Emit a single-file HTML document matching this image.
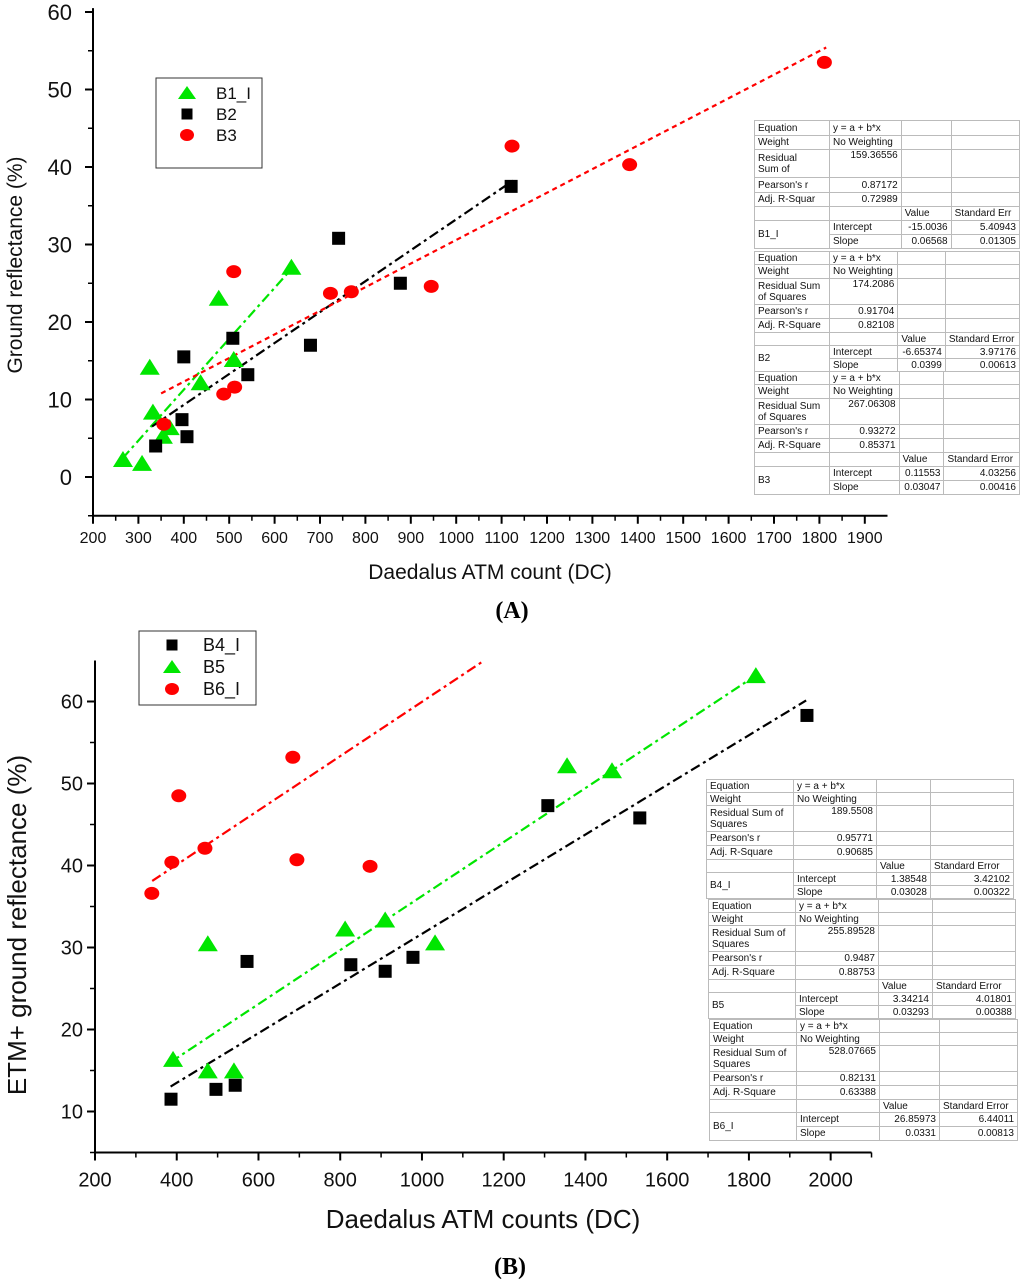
<!DOCTYPE html>
<html><head><meta charset="utf-8">
<style>
body{margin:0;background:#fff;width:1024px;height:1279px;overflow:hidden;position:relative;font-family:"Liberation Sans",Arial,sans-serif}
svg{position:absolute;left:0;top:0}
table{position:absolute;border-collapse:collapse;font-family:"Liberation Sans",Arial,sans-serif;font-size:10px;color:#111;background:#fff}
td{border:1px solid #bbb;padding:0 3px;vertical-align:middle;line-height:11px;white-space:nowrap;overflow:hidden}
td.r{text-align:right}
.tb{border:1.5px solid #666}
</style></head>
<body>
<svg id="chart" width="1024" height="1279"></svg>

<table class="tb" style="left:754px;top:120px;width:266px;height:129px">
<tr style="height:15px"><td style="width:68px">Equation</td><td>y = a + b*x</td><td></td><td></td></tr>
<tr style="height:14px"><td>Weight</td><td>No Weighting</td><td></td><td></td></tr>
<tr style="height:28px"><td>Residual<br>Sum of</td><td class="r" style="vertical-align:top">159.36556</td><td></td><td></td></tr>
<tr style="height:15px"><td>Pearson's r</td><td class="r">0.87172</td><td></td><td></td></tr>
<tr style="height:14px"><td>Adj. R-Squar</td><td class="r">0.72989</td><td></td><td></td></tr>
<tr style="height:14px"><td></td><td></td><td>Value</td><td>Standard Err</td></tr>
<tr style="height:14px"><td rowspan="2">B1_I</td><td>Intercept</td><td class="r">-15.0036</td><td class="r">5.40943</td></tr>
<tr style="height:14px"><td>Slope</td><td class="r">0.06568</td><td class="r">0.01305</td></tr>
</table>
<table class="tb" style="left:754px;top:251px;width:266px;height:120px">
<tr style="height:13px"><td style="width:68px">Equation</td><td>y = a + b*x</td><td></td><td></td></tr>
<tr style="height:14px"><td>Weight</td><td>No Weighting</td><td></td><td></td></tr>
<tr style="height:26px"><td>Residual Sum<br>of Squares</td><td class="r" style="vertical-align:top">174.2086</td><td></td><td></td></tr>
<tr style="height:14px"><td>Pearson's r</td><td class="r">0.91704</td><td></td><td></td></tr>
<tr style="height:14px"><td>Adj. R-Square</td><td class="r">0.82108</td><td></td><td></td></tr>
<tr style="height:13px"><td></td><td></td><td>Value</td><td>Standard Error</td></tr>
<tr style="height:13px"><td rowspan="2">B2</td><td>Intercept</td><td class="r">-6.65374</td><td class="r">3.97176</td></tr>
<tr style="height:13px"><td>Slope</td><td class="r">0.0399</td><td class="r">0.00613</td></tr>
</table>
<table class="tb" style="left:754px;top:371px;width:266px;height:124px">
<tr style="height:13px"><td style="width:68px">Equation</td><td>y = a + b*x</td><td></td><td></td></tr>
<tr style="height:14px"><td>Weight</td><td>No Weighting</td><td></td><td></td></tr>
<tr style="height:26px"><td>Residual Sum<br>of Squares</td><td class="r" style="vertical-align:top">267.06308</td><td></td><td></td></tr>
<tr style="height:14px"><td>Pearson's r</td><td class="r">0.93272</td><td></td><td></td></tr>
<tr style="height:14px"><td>Adj. R-Square</td><td class="r">0.85371</td><td></td><td></td></tr>
<tr style="height:14px"><td></td><td></td><td>Value</td><td>Standard Error</td></tr>
<tr style="height:14px"><td rowspan="2">B3</td><td>Intercept</td><td class="r">0.11553</td><td class="r">4.03256</td></tr>
<tr style="height:14px"><td>Slope</td><td class="r">0.03047</td><td class="r">0.00416</td></tr>
</table>

<table class="tb" style="left:706px;top:779px;width:308px;height:118px">
<tr style="height:13px"><td style="width:80px">Equation</td><td style="width:76px">y = a + b*x</td><td style="width:47px"></td><td></td></tr>
<tr style="height:13px"><td>Weight</td><td>No Weighting</td><td></td><td></td></tr>
<tr style="height:26px"><td>Residual Sum of<br>Squares</td><td class="r" style="vertical-align:top">189.5508</td><td></td><td></td></tr>
<tr style="height:14px"><td>Pearson's r</td><td class="r">0.95771</td><td></td><td></td></tr>
<tr style="height:14px"><td>Adj. R-Square</td><td class="r">0.90685</td><td></td><td></td></tr>
<tr style="height:13px"><td></td><td></td><td>Value</td><td>Standard Error</td></tr>
<tr style="height:13px"><td rowspan="2">B4_I</td><td>Intercept</td><td class="r">1.38548</td><td class="r">3.42102</td></tr>
<tr style="height:13px"><td>Slope</td><td class="r">0.03028</td><td class="r">0.00322</td></tr>
</table>
<table class="tb" style="left:708px;top:899px;width:308px;height:118px">
<tr style="height:13px"><td style="width:80px">Equation</td><td style="width:76px">y = a + b*x</td><td style="width:47px"></td><td></td></tr>
<tr style="height:13px"><td>Weight</td><td>No Weighting</td><td></td><td></td></tr>
<tr style="height:26px"><td>Residual Sum of<br>Squares</td><td class="r" style="vertical-align:top">255.89528</td><td></td><td></td></tr>
<tr style="height:14px"><td>Pearson's r</td><td class="r">0.9487</td><td></td><td></td></tr>
<tr style="height:14px"><td>Adj. R-Square</td><td class="r">0.88753</td><td></td><td></td></tr>
<tr style="height:13px"><td></td><td></td><td>Value</td><td>Standard Error</td></tr>
<tr style="height:13px"><td rowspan="2">B5</td><td>Intercept</td><td class="r">3.34214</td><td class="r">4.01801</td></tr>
<tr style="height:13px"><td>Slope</td><td class="r">0.03293</td><td class="r">0.00388</td></tr>
</table>
<table class="tb" style="left:709px;top:1019px;width:309px;height:121px">
<tr style="height:13px"><td style="width:80px">Equation</td><td style="width:76px">y = a + b*x</td><td style="width:53px"></td><td></td></tr>
<tr style="height:13px"><td>Weight</td><td>No Weighting</td><td></td><td></td></tr>
<tr style="height:26px"><td>Residual Sum of<br>Squares</td><td class="r" style="vertical-align:top">528.07665</td><td></td><td></td></tr>
<tr style="height:14px"><td>Pearson's r</td><td class="r">0.82131</td><td></td><td></td></tr>
<tr style="height:14px"><td>Adj. R-Square</td><td class="r">0.63388</td><td></td><td></td></tr>
<tr style="height:13px"><td></td><td></td><td>Value</td><td>Standard Error</td></tr>
<tr style="height:14px"><td rowspan="2">B6_I</td><td>Intercept</td><td class="r">26.85973</td><td class="r">6.44011</td></tr>
<tr style="height:14px"><td>Slope</td><td class="r">0.0331</td><td class="r">0.00813</td></tr>
</table>

<script>
// Panel A data
const aB1x=[266,308,325,332,354,369,437,477,510,637];
const aB1y=[2.2,1.7,14.1,8.3,5.2,6.3,12.1,23,15.1,27];
const aB2x=[338,396,400,407,508,541,679,741,877,1121];
const aB2y=[4.0,7.4,15.5,5.2,17.9,13.2,17,30.8,25,37.5];
const aB3x=[356,488,512,510,723,769,945,1123,1382,1811];
const aB3y=[6.8,10.7,11.6,26.5,23.7,23.9,24.6,42.7,40.3,53.5];
const aFitB1=[-15.0036,0.06568,265,640];
const aFitB2=[-6.65374,0.0399,330,1125];
const aFitB3=[0.11553,0.03047,350,1815];
const aXTicks=[200,300,400,500,600,700,800,900,1000,1100,1200,1300,1400,1500,1600,1700,1800,1900];
const aYTicks=[0,10,20,30,40,50,60];
// Panel B data
const bB4x=[386,496,543,572,826,910,978,1308,1533,1942];
const bB4y=[11.5,12.7,13.2,28.3,27.9,27.1,28.8,47.3,45.8,58.3];
const bB5x=[391,476,476,540,812,910,1032,1355,1465,1817];
const bB5y=[16.3,30.4,14.9,14.9,32.2,33.3,30.5,52.1,51.5,63.1];
const bB6x=[339,388,405,469,684,694,873];
const bB6y=[36.6,40.4,48.5,42.1,53.2,40.7,39.9];
const bFitB4=[1.38548,0.03028,385,1940];
const bFitB5=[3.34214,0.03293,385,1815];
const bFitB6=[26.85973,0.0331,340,1150];
const bXTicks=[200,400,600,800,1000,1200,1400,1600,1800,2000];
const bYTicks=[10,20,30,40,50,60];

const NS='http://www.w3.org/2000/svg';
const svg=document.getElementById('chart');
function el(tag,attrs,parent){const e=document.createElementNS(NS,tag);for(const k in attrs)e.setAttribute(k,attrs[k]);(parent||svg).appendChild(e);return e;}
function txt(s,attrs,parent){const e=el('text',attrs,parent);e.textContent=s;return e;}

function panel(cfg){
  const g=el('g',{});
  
  
  const X=v=>cfg.x0+(v-cfg.xmin)*cfg.xs;
  const Y=v=>cfg.y0-(v-cfg.ymin)*cfg.ys;
  const L=cfg.x0, R=X(cfg.xmax), B=Y(cfg.ybot), T=Y(cfg.ytop);
  const ax=el('path',{d:`M${L},${T}V${B}H${R}`,stroke:'#000','stroke-width':2,fill:'none'},g);
  
  
  cfg.xTicks.forEach((t,i)=>{
    el('line',{x1:X(t),x2:X(t),y1:B,y2:B+8,stroke:'#000','stroke-width':2},g);
    if(i<cfg.xTicks.length-1||cfg.xMinorLast) el('line',{x1:X(t+cfg.xStep/2),x2:X(t+cfg.xStep/2),y1:B,y2:B+5,stroke:'#000','stroke-width':1.5},g);
    const l=txt(String(t),{x:X(t),y:B+cfg.xLabOff,'font-size':cfg.tickFs,'text-anchor':'middle',fill:'#111'},g);
    
    
  });
  cfg.yTicks.forEach(t=>{
    el('line',{x1:L-8,x2:L,y1:Y(t),y2:Y(t),stroke:'#000','stroke-width':2},g);
    el('line',{x1:L-5,x2:L,y1:Y(t-cfg.yStep/2),y2:Y(t-cfg.yStep/2),stroke:'#000','stroke-width':1.5},g);
    const l=txt(String(t),{x:L-cfg.yGap,y:Y(t)+cfg.yTickFs*0.36,'font-size':cfg.yTickFs,'text-anchor':'end',fill:'#111'},g);
    
    
  });
  const xl=txt(cfg.xLabel,{x:cfg.xLabelPos[0],y:cfg.xLabelPos[1],'font-size':cfg.labFs,'text-anchor':'middle',fill:'#111'},g);
  
  
  const yl=txt(cfg.yLabel,{x:0,y:0,'font-size':cfg.labFs,'text-anchor':'middle',fill:'#111',transform:`translate(${cfg.yLabelPos[0]},${cfg.yLabelPos[1]}) rotate(-90)`},g);
  
  
  cfg.fits.forEach(f=>{
    const [a,b,x1,x2]=f.p;
    let xe=x2; let ye=a+b*x2; if(ye>cfg.ytop){xe=(cfg.ytop-a)/b;ye=cfg.ytop;}
    const ln=el('line',{x1:X(x1),y1:Y(a+b*x1),x2:X(xe),y2:Y(ye),stroke:f.c,'stroke-width':2.2,'stroke-dasharray':f.dash},g);
    
    
  });
  cfg.series.forEach(s=>{
    s.xs.forEach((xv,i)=>{
      const cx=X(xv), cy=Y(s.ys[i]); let m;
      if(s.shape==='tri') m=el('polygon',{points:`${cx},${cy-9} ${cx-10},${cy+7} ${cx+10},${cy+7}`,fill:'#00e600'},g);
      else if(s.shape==='sq') m=el('rect',{x:cx-6.5,y:cy-6.5,width:13,height:13,fill:'#000'},g);
      else m=el('ellipse',{cx:cx,cy:cy,rx:7.5,ry:6.5,fill:'#f00'},g);
      
      
    });
  });
  const lg=el('g',{},g);
  
  
  const [lx,ly,lw,lh]=cfg.legBox;
  el('rect',{x:lx,y:ly,width:lw,height:lh,fill:'#fff',stroke:'#333','stroke-width':1},lg);
  cfg.series.forEach((s,i)=>{
    const cy=ly+cfg.legY0+i*cfg.legDy, cx=lx+cfg.legMx;
    let m;
    if(s.shape==='tri') m=el('polygon',{points:`${cx},${cy-7} ${cx-9},${cy+6} ${cx+9},${cy+6}`,fill:'#00e600'},lg);
    else if(s.shape==='sq') m=el('rect',{x:cx-5.5,y:cy-5.5,width:11,height:11,fill:'#000'},lg);
    else m=el('ellipse',{cx:cx,cy:cy,rx:7,ry:6,fill:'#f00'},lg);
    
    
    const t=txt(s.label,{x:lx+cfg.legTx,y:cy+6,'font-size':cfg.legFs,fill:'#111'},lg);
    
    
  });
  const cap=txt(cfg.caption,{x:cfg.capPos[0],y:cfg.capPos[1],'font-size':24,'font-weight':'bold','text-anchor':'middle','font-family':'Liberation Serif, serif',fill:'#000'});
  
  
}

panel({name:'panel-a',x0:93,xmin:200,xs:0.454,xmax:1950,y0:477,ymin:0,ys:7.75,ybot:-5,ytop:60.5,
  xTicks:aXTicks,xStep:100,xMinorLast:false,yTicks:aYTicks,yStep:10,tickFs:16,yTickFs:22,yGap:21,xLabOff:27,labFs:21,
  xLabel:'Daedalus ATM count (DC)',xLabelPos:[490,579],yLabel:'Ground reflectance (%)',yLabelPos:[22,265],
  fits:[{p:aFitB1,c:'#00e600',dash:'10,4,3,4',name:'fit-line-b1'},{p:aFitB2,c:'#000',dash:'10,4,3,4',name:'fit-line-b2'},{p:aFitB3,c:'#f00',dash:'5,4',name:'fit-line-b3'}],
  series:[{xs:aB1x,ys:aB1y,shape:'tri',label:'B1_I',name:'b1'},{xs:aB2x,ys:aB2y,shape:'sq',label:'B2',name:'b2'},{xs:aB3x,ys:aB3y,shape:'circ',label:'B3',name:'b3'}],
  legBox:[156,78,106,90],legY0:15,legDy:21,legMx:31,legTx:60,legFs:17,caption:'(A)',capPos:[512,618]});

panel({name:'panel-b',x0:95,xmin:200,xs:0.4087,xmax:2100,y0:1111.5,ymin:10,ys:8.2,ybot:5,ytop:65,
  xTicks:bXTicks,xStep:200,xMinorLast:true,yTicks:bYTicks,yStep:10,tickFs:20,yTickFs:20,yGap:12,xLabOff:34,labFs:26,
  xLabel:'Daedalus ATM counts (DC)',xLabelPos:[483,1228],yLabel:'ETM+ ground reflectance (%)',yLabelPos:[26,925],
  fits:[{p:bFitB4,c:'#000',dash:'10,4,3,4',name:'fit-line-b4'},{p:bFitB5,c:'#00e600',dash:'10,4,3,4',name:'fit-line-b5'},{p:bFitB6,c:'#f00',dash:'10,4,3,4',name:'fit-line-b6'}],
  series:[{xs:bB4x,ys:bB4y,shape:'sq',label:'B4_I',name:'b4'},{xs:bB5x,ys:bB5y,shape:'tri',label:'B5',name:'b5'},{xs:bB6x,ys:bB6y,shape:'circ',label:'B6_I',name:'b6'}],
  legBox:[139,631,117,74],legY0:14,legDy:22,legMx:33,legTx:64,legFs:18,caption:'(B)',capPos:[510,1274]});
</script>
</body></html>
